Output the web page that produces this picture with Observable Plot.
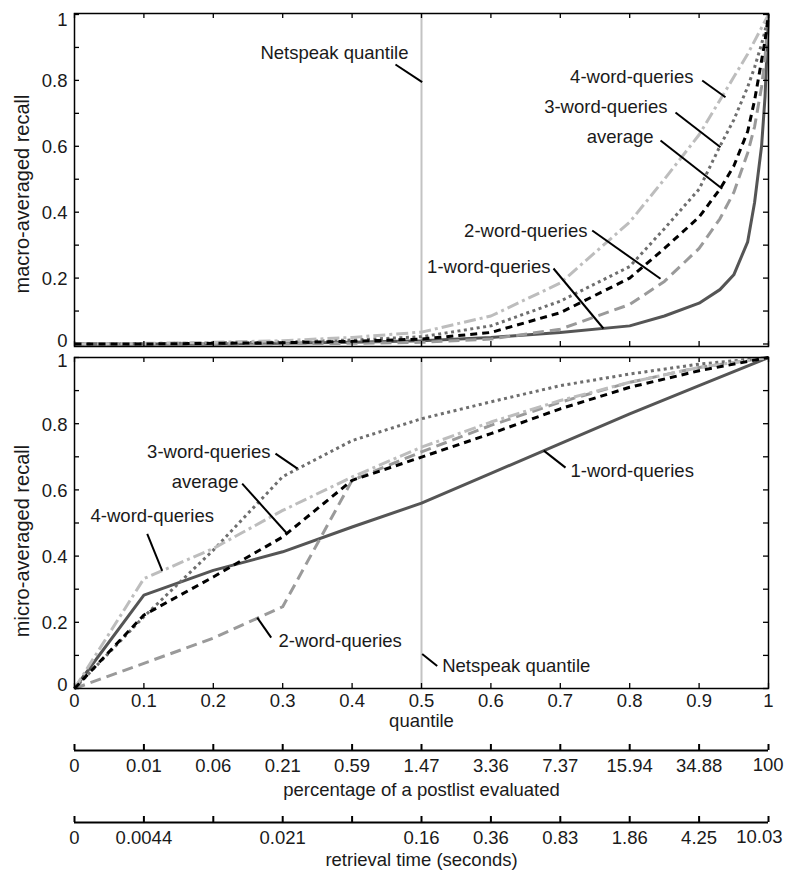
<!DOCTYPE html>
<html><head><meta charset="utf-8">
<script src="https://cdn.jsdelivr.net/npm/d3@7"></script>
<script src="https://cdn.jsdelivr.net/npm/@observablehq/plot@0.6"></script>
<style>
html,body{margin:0;padding:0;background:#fff;overflow:hidden;}
#chart{position:relative;width:785px;height:873px;background:#fff;}
#chart svg{position:absolute;left:0;overflow:visible;background:transparent;}
</style></head><body><div id="chart"></div>
<script>
// ---------- data ----------
const seriesNames = ["1-word-queries", "2-word-queries", "3-word-queries", "4-word-queries", "average"];

// macro-averaged recall (top panel)
const quantileMacro = [0, 0.1, 0.2, 0.3, 0.4, 0.5, 0.6, 0.7, 0.8, 0.85, 0.9, 0.93, 0.95, 0.97, 0.98, 0.99, 0.995, 1];
const macro1 = [0, 0, 0, 0.002, 0.005, 0.01, 0.02, 0.035, 0.055, 0.085, 0.124, 0.165, 0.21, 0.31, 0.43, 0.6, 0.75, 1];
const macro2 = [0, 0, 0, 0.001, 0.002, 0.005, 0.015, 0.045, 0.12, 0.19, 0.29, 0.38, 0.46, 0.58, 0.66, 0.78, 0.87, 1];
const macro3 = [0, 0.001, 0.003, 0.006, 0.012, 0.022, 0.055, 0.13, 0.235, 0.35, 0.47, 0.6, 0.68, 0.78, 0.84, 0.91, 0.95, 1];
const macro4 = [0, 0.002, 0.005, 0.01, 0.02, 0.036, 0.085, 0.185, 0.37, 0.5, 0.635, 0.74, 0.81, 0.88, 0.92, 0.96, 0.98, 1];
const macroAvg = [0, 0, 0.002, 0.004, 0.008, 0.015, 0.035, 0.095, 0.2, 0.29, 0.385, 0.47, 0.54, 0.645, 0.74, 0.86, 0.92, 1];

// micro-averaged recall (bottom panel)
const quantileMicro = [0, 0.1, 0.2, 0.3, 0.4, 0.5, 0.6, 0.7, 0.8, 0.9, 1];
const micro1 = [0, 0.282, 0.357, 0.413, 0.488, 0.56, 0.65, 0.74, 0.83, 0.915, 1];
const micro2 = [0, 0.076, 0.152, 0.247, 0.629, 0.715, 0.795, 0.865, 0.925, 0.97, 1];
const micro3 = [0, 0.217, 0.418, 0.64, 0.749, 0.815, 0.866, 0.915, 0.95, 0.98, 1];
const micro4 = [0, 0.332, 0.423, 0.538, 0.639, 0.729, 0.805, 0.87, 0.925, 0.97, 1];
const microAvg = [0, 0.222, 0.337, 0.458, 0.629, 0.699, 0.77, 0.845, 0.91, 0.96, 1];

const netspeakQuantile = 0.5;

// tick labels
const quantileTicks = [0, 0.1, 0.2, 0.3, 0.4, 0.5, 0.6, 0.7, 0.8, 0.9, 1];
const quantileLabels = ["0", "0.1", "0.2", "0.3", "0.4", "0.5", "0.6", "0.7", "0.8", "0.9", "1"];
const recallTicks = [0, 0.1, 0.2, 0.3, 0.4, 0.5, 0.6, 0.7, 0.8, 0.9, 1];
const recallLabelTicks = [0, 0.2, 0.4, 0.6, 0.8, 1];
const recallLabels = ["0", "0.2", "0.4", "0.6", "0.8", "1"];
const percentLabels = ["0", "0.01", "0.06", "0.21", "0.59", "1.47", "3.36", "7.37", "15.94", "34.88", "100"];
const timeLabels = ["0", "0.0044", "", "0.021", "", "0.16", "0.36", "0.83", "1.86", "4.25", "10.03"];

// annotations (text anchors and leader lines, in data units)
const macroNotes = [
  {text: "Netspeak quantile", x: 0.4813, y: 0.8816, anchor: "end"},
  {text: "4-word-queries", x: 0.8919, y: 0.8088, anchor: "end"},
  {text: "3-word-queries", x: 0.8545, y: 0.7178, anchor: "end"},
  {text: "average", x: 0.8343, y: 0.6267, anchor: "end"},
  {text: "2-word-queries", x: 0.7392, y: 0.3423, anchor: "end"},
  {text: "1-word-queries", x: 0.6859, y: 0.2331, anchor: "end"}
];
const macroLeaders = [
  {x1: 0.4625, y1: 0.8483, x2: 0.501, y2: 0.7945},
  {x1: 0.9045, y1: 0.7997, x2: 0.9380, y2: 0.7490},
  {x1: 0.8660, y1: 0.7026, x2: 0.9308, y2: 0.5973},
  {x1: 0.8444, y1: 0.6176, x2: 0.9333, y2: 0.4710},
  {x1: 0.7460, y1: 0.3445, x2: 0.8444, y2: 0.1979},
  {x1: 0.6902, y1: 0.2291, x2: 0.7622, y2: 0.0470}
];
const microNotes = [
  {text: "3-word-queries", x: 0.2824, y: 0.7135, anchor: "end"},
  {text: "average", x: 0.2363, y: 0.6227, anchor: "end"},
  {text: "4-word-queries", x: 0.0231, y: 0.5219, anchor: "start"},
  {text: "2-word-queries", x: 0.2939, y: 0.1437, anchor: "start"},
  {text: "1-word-queries", x: 0.7147, y: 0.6581, anchor: "start"},
  {text: "Netspeak quantile", x: 0.5298, y: 0.0681, anchor: "start"}
];
const microLeaders = [
  {x1: 0.2896, y1: 0.7095, x2: 0.3213, y2: 0.6641},
  {x1: 0.2416, y1: 0.6188, x2: 0.3065, y2: 0.4675},
  {x1: 0.1048, y1: 0.4675, x2: 0.1264, y2: 0.3555},
  {x1: 0.2834, y1: 0.1537, x2: 0.2633, y2: 0.2142},
  {x1: 0.7075, y1: 0.6672, x2: 0.6762, y2: 0.7186},
  {x1: 0.501, y1: 0.1044, x2: 0.5226, y2: 0.0681}
];

// ---------- styles ----------
const FONT = "'Liberation Sans', Arial, Helvetica, sans-serif";
const FS = 18.5;
const INK = "#1a1a1a";
const lineStyle = {
  "1-word-queries": {stroke: "#555555", dash: null},
  "2-word-queries": {stroke: "#9a9a9a", dash: "11,6"},
  "3-word-queries": {stroke: "#6e6e6e", dash: "3,3.5"},
  "4-word-queries": {stroke: "#bdbdbd", dash: "12,4,3,4"},
  "average": {stroke: "#000000", dash: "7,5"}
};
const W = 785, ML = 74, MR = 17;
const FW = W - ML - MR;

function rows(q, arrs) {
  const out = [];
  arrs.forEach((a, k) => a.forEach((v, i) => out.push({series: seriesNames[k], q: q[i], v})));
  return out;
}
const macroRows = rows(quantileMacro, [macro1, macro2, macro3, macro4, macroAvg]);
const microRows = rows(quantileMicro, [micro1, micro2, micro3, micro4, microAvg]);

const qMap = new Map(quantileTicks.map((t, i) => [t, quantileLabels[i]]));
const rMap = new Map(recallLabelTicks.map((t, i) => [t, recallLabels[i]]));
const pMap = new Map(quantileTicks.map((t, i) => [t, percentLabels[i]]));
const tMap = new Map(quantileTicks.map((t, i) => [t, timeLabels[i]]));

const textOpts = {fill: INK, fontSize: FS, fontFamily: FONT, lineAnchor: "middle"};

function panel({data, notes, leaders, yDomain, height, marginTop, marginBottom, yLabel, yLabelDy, dyTop, dyBottom, withXAxis}) {
  const FH = height - marginTop - marginBottom;
  const midTicks = recallLabelTicks.slice(1, -1);
  const marks = [
    Plot.ruleX([netspeakQuantile], {stroke: "#c3c3c3", strokeWidth: 2}),
    ...seriesNames.map(name => Plot.line(data.filter(d => d.series === name), {
      x: "q", y: "v", stroke: lineStyle[name].stroke, strokeWidth: 3,
      strokeDasharray: lineStyle[name].dash || undefined,
      strokeLinecap: "butt", strokeLinejoin: "round"
    })),
    Plot.link(leaders, {x1: "x1", y1: "y1", x2: "x2", y2: "y2", stroke: "#000", strokeWidth: 2}),
    Plot.text(notes.filter(d => d.anchor === "end"), {x: "x", y: "y", text: "text", textAnchor: "end", ...textOpts}),
    Plot.text(notes.filter(d => d.anchor === "start"), {x: "x", y: "y", text: "text", textAnchor: "start", ...textOpts}),
    Plot.tickX(quantileTicks, {x: d => d, insetTop: FH - 5, stroke: "#000", strokeWidth: 1.3}),
    Plot.tickX(quantileTicks, {x: d => d, insetBottom: FH - 5, stroke: "#000", strokeWidth: 1.3}),
    Plot.tickY(recallTicks, {y: d => d, insetRight: FW - 5, stroke: "#000", strokeWidth: 1.3}),
    Plot.tickY(recallTicks, {y: d => d, insetLeft: FW - 5, stroke: "#000", strokeWidth: 1.3}),
    Plot.axisY({ticks: midTicks, tickFormat: d => rMap.get(d), tickSize: 0, tickPadding: 7,
      label: null, fontSize: FS, fontFamily: FONT, dy: 1}),
    Plot.axisY({ticks: [recallLabelTicks[recallLabelTicks.length - 1]], tickFormat: d => rMap.get(d), tickSize: 0, tickPadding: 7,
      label: null, fontSize: FS, fontFamily: FONT, dy: dyTop}),
    Plot.axisY({ticks: [recallLabelTicks[0]], tickFormat: d => rMap.get(d), tickSize: 0, tickPadding: 7,
      label: null, fontSize: FS, fontFamily: FONT, dy: dyBottom}),
    Plot.text([yLabel], {frameAnchor: "left", dx: -52, dy: yLabelDy, rotate: -90, text: d => d,
      textAnchor: "middle", fill: INK, fontSize: 20, fontFamily: FONT, lineAnchor: "middle"}),
    Plot.frame({stroke: "#000", strokeWidth: 1.5})
  ];
  if (withXAxis) {
    marks.push(Plot.axisX({ticks: quantileTicks, tickFormat: d => qMap.get(d), tickSize: 0, tickPadding: 5.5,
      label: null, fontSize: FS, fontFamily: FONT}));
    marks.push(Plot.text(["quantile"], {frameAnchor: "bottom", dy: 33, text: d => d, ...textOpts}));
  }
  return Plot.plot({
    width: W, height, marginLeft: ML, marginRight: MR, marginTop, marginBottom,
    style: {fontFamily: FONT, fontSize: FS + "px", color: INK, background: "transparent", overflow: "visible"},
    x: {domain: [0, 1], axis: null},
    y: {domain: yDomain, axis: null},
    marks
  });
}

function extraAxis({labels, height, marginTop, marginBottom, title, titleDy, lastDx}) {
  const lastTick = quantileTicks[quantileTicks.length - 1];
  return Plot.plot({
    width: W, height, marginLeft: ML, marginRight: MR, marginTop, marginBottom,
    style: {fontFamily: FONT, fontSize: FS + "px", color: INK, background: "transparent", overflow: "visible"},
    x: {domain: [0, 1], axis: null},
    y: {domain: [0, 1], axis: null},
    marks: [
      Plot.ruleY([0], {stroke: "#000", strokeWidth: 2}),
      Plot.tickX(quantileTicks, {x: d => d, stroke: "#000", strokeWidth: 2}),
      Plot.axisX({ticks: quantileTicks.slice(0, -1), tickFormat: d => labels.get(d), tickSize: 0, tickPadding: 8.4,
        label: null, fontSize: FS, fontFamily: FONT}),
      Plot.text([lastTick], {x: d => d, frameAnchor: "bottom", dy: 15, dx: lastDx, text: d => labels.get(d),
        textAnchor: "end", ...textOpts}),
      Plot.text([title], {frameAnchor: "bottom", dy: titleDy, text: d => d, ...textOpts})
    ]
  });
}

const chart = document.getElementById("chart");
function place(svg, top) { svg.style.top = top + "px"; chart.appendChild(svg); }

place(panel({data: macroRows, notes: macroNotes, leaders: macroLeaders, yDomain: [-0.0076, 1.003],
  height: 350, marginTop: 13, marginBottom: 4, yLabel: "macro-averaged recall", yLabelDy: 14,
  dyTop: 6, dyBottom: -2.5, withXAxis: false}), 0);
place(panel({data: microRows, notes: microNotes, leaders: microLeaders, yDomain: [0, 1],
  height: 380, marginTop: 7, marginBottom: 42, yLabel: "micro-averaged recall", yLabelDy: 18,
  dyTop: 4, dyBottom: -3, withXAxis: true}), 350);
place(extraAxis({labels: pMap, height: 75, marginTop: 14, marginBottom: 55,
  title: "percentage of a postlist evaluated", titleDy: 40, lastDx: 15}), 730);
place(extraAxis({labels: tMap, height: 68, marginTop: 11, marginBottom: 51,
  title: "retrieval time (seconds)", titleDy: 38, lastDx: 14}), 805);
</script></body></html>
